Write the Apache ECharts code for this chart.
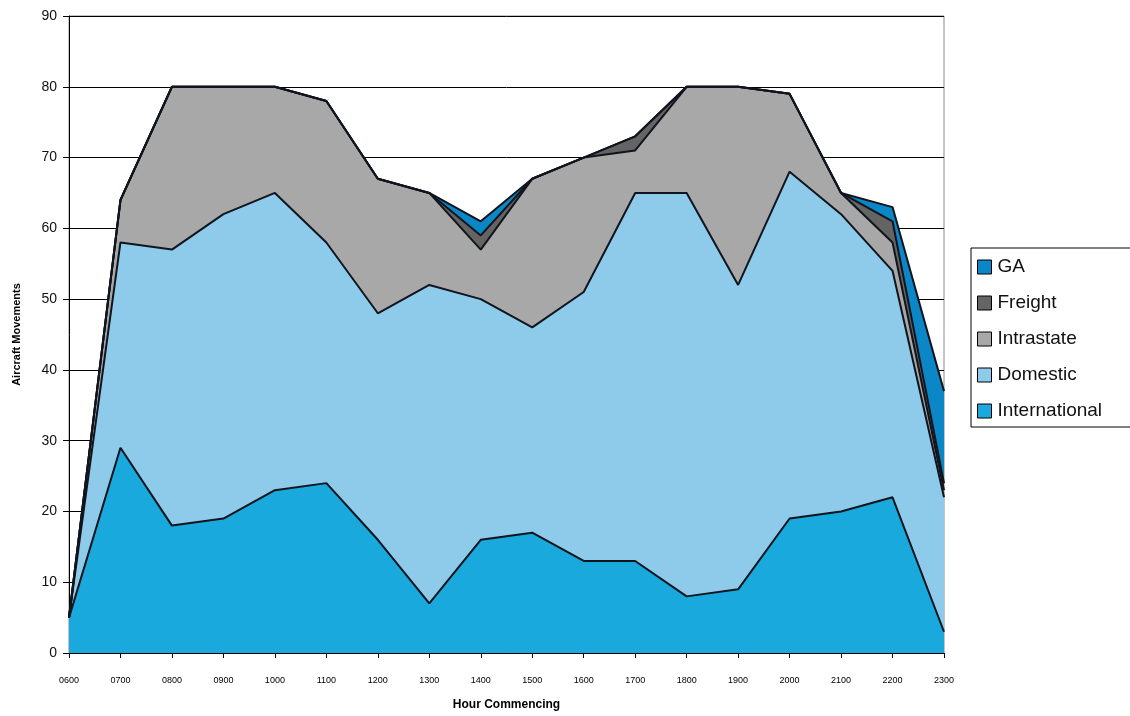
<!DOCTYPE html>
<html>
<head>
<meta charset="utf-8">
<script src="https://cdn.jsdelivr.net/npm/echarts@6/dist/echarts.min.js"></script>
<style>
html,body{margin:0;padding:0;background:#fff;}
#chart{width:1130px;height:716px;}
</style>
</head>
<body>
<div id="chart"></div>
<script>
const categories = ['0600','0700','0800','0900','1000','1100','1200','1300','1400','1500','1600','1700','1800','1900','2000','2100','2200','2300'];
const international = [5,29,18,19,23,24,16,7,16,17,13,13,8,9,19,20,22,3];
const domestic      = [0,29,39,43,42,34,32,45,34,29,38,52,57,43,49,42,32,19];
const intrastate    = [0,6,23,18,15,20,19,13,7,21,19,6,15,28,11,3,4,1];
const freight       = [0,0,0,0,0,0,0,0,2,0,0,2,0,0,0,0,3,1];
const ga            = [0,0,0,0,0,0,0,0,2,0,0,0,0,0,0,0,2,13];
const yTicks = [0,10,20,30,40,50,60,70,80,90];

const seriesDefs = [
  {name:'International', data:international, color:'#19a9dc'},
  {name:'Domestic', data:domestic, color:'#8ecbeb'},
  {name:'Intrastate', data:intrastate, color:'#a9a8a9'},
  {name:'Freight', data:freight, color:'#646464'},
  {name:'GA', data:ga, color:'#0b87c7'}
];

const chart = echarts.init(document.getElementById('chart'), null, {renderer:'canvas'});
chart.setOption({
  animation:false,
  backgroundColor:'#fff',
  grid:{left:69, right:186, top:16, bottom:61, show:true, borderColor:'#8a8a8a', borderWidth:1, backgroundColor:'transparent'},
  legend:{
    orient:'vertical',
    left:971, top:248,
    data:['GA','Freight','Intrastate','Domestic','International'],
    icon:'rect',
    itemWidth:14, itemHeight:14, itemGap:16,
    padding:[9,40,6,6],
    borderColor:'#000', borderWidth:1,
    backgroundColor:'#fff',
    itemStyle:{borderColor:'#000', borderWidth:1},
    textStyle:{fontFamily:'Liberation Sans, Arial, sans-serif', fontSize:19, lineHeight:20, color:'#111', padding:[0,0,0,1]}
  },
  xAxis:{
    type:'category',
    data:categories,
    boundaryGap:false,
    name:'Hour Commencing',
    nameLocation:'middle',
    nameGap:46,
    nameTextStyle:{fontFamily:'Liberation Sans, Arial, sans-serif', fontSize:12, fontWeight:'bold', color:'#000'},
    axisLine:{show:true, lineStyle:{color:'#000', width:1}},
    axisTick:{show:true, alignWithLabel:true, length:5, lineStyle:{color:'#000'}},
    axisLabel:{fontFamily:'Liberation Sans Narrow, Liberation Sans, Arial, sans-serif', fontSize:9, color:'#000', margin:23, interval:0},
    splitLine:{show:false}
  },
  yAxis:{
    type:'value',
    min:yTicks[0], max:yTicks[yTicks.length-1], interval:10,
    name:'Aircraft Movements',
    nameLocation:'middle',
    nameRotate:90,
    nameGap:47,
    nameTextStyle:{fontFamily:'Liberation Sans, Arial, sans-serif', fontSize:11, fontWeight:'bold', color:'#000'},
    axisLine:{show:true, lineStyle:{color:'#000', width:1}},
    axisTick:{show:true, length:6, inside:false, lineStyle:{color:'#000'}},
    axisLabel:{fontFamily:'Liberation Sans, Arial, sans-serif', fontSize:14, color:'#111', margin:12},
    splitLine:{show:true, lineStyle:{color:'#000', width:1}}
  },
  series: seriesDefs.map(s => ({
    name:s.name,
    type:'line',
    stack:'total',
    data:s.data,
    symbol:'none',
    showSymbol:false,
    color:s.color,
    itemStyle:{color:s.color},
    lineStyle:{color:'#10141c', width:2},
    areaStyle:{color:s.color, opacity:1},
    z:2
  }))
});
</script>
</body>
</html>
